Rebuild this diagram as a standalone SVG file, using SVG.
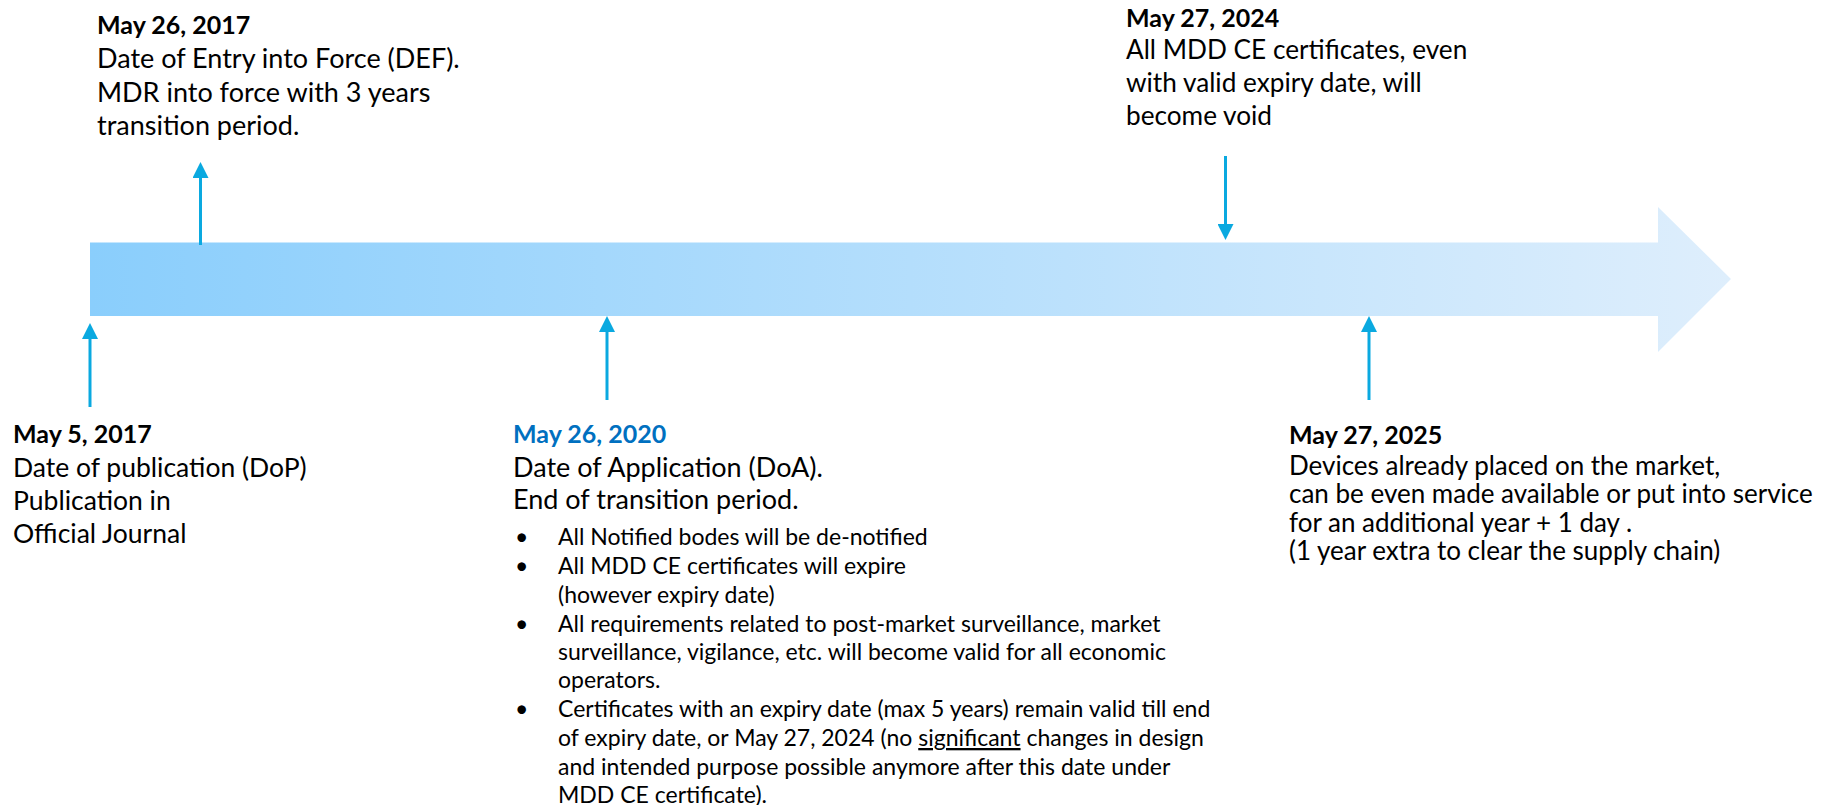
<svg xmlns="http://www.w3.org/2000/svg" width="1829" height="805" viewBox="0 0 1829 805">
<style>
text{font-family:Lato,"Open Sans","Liberation Sans",sans-serif;fill:#000}
.t{font-weight:700;font-size:25px}
.b{font-size:27px}
.b2{font-size:26.5px}
.b3{font-size:26.2px}
.b4{font-size:26px}
.s{font-size:23px}
.blue{fill:#0070C0}
.con{stroke:#0AA9E0;stroke-width:3;fill:none;marker-end:url(#ah)}
</style>
<defs>
<linearGradient id="g" gradientUnits="userSpaceOnUse" x1="90" y1="0" x2="1731" y2="0">
<stop offset="0" stop-color="#8ACEFC"/>
<stop offset="1" stop-color="#DEEEFC"/>
</linearGradient>
<marker id="ah" viewBox="0 0 16 16" refX="4" refY="8" markerWidth="16" markerHeight="16" markerUnits="userSpaceOnUse" orient="auto">
<path d="M0,0 L16,8 L0,16 z" fill="#0AA9E0"/>
</marker>
</defs>
<g id="timeline">
<polygon points="90,242.5 1658,242.5 1658,207 1731,279 1658,352 1658,316 90,316" fill="url(#g)"/>
</g>
<g id="connectors">
<line class="con" x1="90" y1="407" x2="90" y2="335"/>
<line class="con" x1="200.5" y1="245" x2="200.5" y2="174"/>
<line class="con" x1="1225.5" y1="156" x2="1225.5" y2="228"/>
<line class="con" x1="607" y1="400" x2="607" y2="328"/>
<line class="con" x1="1369" y1="400" x2="1369" y2="328"/>
</g>
<g id="node-may5-2017">
<text class="t" x="13" y="443">May 5, 2017</text>
<text class="b2" x="13" y="477">Date of publication (DoP)</text>
<text class="b2" x="13" y="510">Publication in</text>
<text class="b2" x="13" y="543">Official Journal</text>
</g>
<g id="node-may26-2017">
<text class="t" x="97" y="34">May 26, 2017</text>
<text class="b" x="97" y="68">Date of Entry into Force (DEF).</text>
<text class="b" x="97" y="102">MDR into force with 3 years</text>
<text class="b" x="97" y="135">transition period.</text>
</g>
<g id="node-may27-2024">
<text class="t" x="1126" y="27">May 27, 2024</text>
<text class="b3" x="1126" y="59">All MDD CE certificates, even</text>
<text class="b3" x="1126" y="92">with valid expiry date, will</text>
<text class="b3" x="1126" y="125">become void</text>
</g>
<g id="node-may26-2020">
<text class="t blue" x="513" y="443">May 26, 2020</text>
<text class="b" x="513" y="477">Date of Application (DoA).</text>
<text class="b" x="513" y="509">End of transition period.</text>
<text class="s" x="515" y="545">•</text>
<text class="s" x="558" y="545">All Notified bodes will be de-notified</text>
<text class="s" x="515" y="574">•</text>
<text class="s" x="558" y="574">All MDD CE certificates will expire</text>
<text class="s" x="558" y="603">(however expiry date)</text>
<text class="s" x="515" y="632">•</text>
<text class="s" x="558" y="632">All requirements related to post-market surveillance, market</text>
<text class="s" x="558" y="660">surveillance, vigilance, etc. will become valid for all economic</text>
<text class="s" x="558" y="688">operators.</text>
<text class="s" x="515" y="717">•</text>
<text class="s" x="558" y="717">Certificates with an expiry date (max 5 years) remain valid till end</text>
<text class="s" x="558" y="746">of expiry date, or May 27, 2024 (no <tspan text-decoration="underline">significant</tspan> changes in design</text>
<text class="s" x="558" y="775">and intended purpose possible anymore after this date under</text>
<text class="s" x="558" y="803">MDD CE certificate).</text>
</g>
<g id="node-may27-2025">
<text class="t" x="1289" y="444">May 27, 2025</text>
<text class="b4" x="1289" y="475">Devices already placed on the market,</text>
<text class="b4" x="1289" y="503">can be even made available or put into service</text>
<text class="b4" x="1289" y="532">for an additional year + 1 day .</text>
<text class="b4" x="1289" y="560">(1 year extra to clear the supply chain)</text>
</g>
<g id="slide-number">
<text x="53" y="817" style="font-size:16px">8</text>
</g>
</svg>
